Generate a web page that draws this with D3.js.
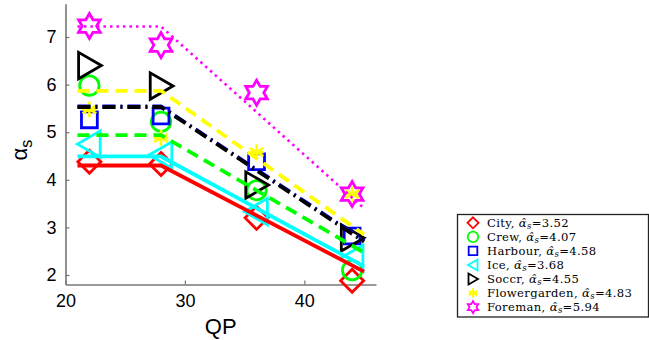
<!DOCTYPE html>
<html>
<head>
<meta charset="utf-8">
<script src="https://cdn.jsdelivr.net/npm/d3@7"></script>
<style>
  html, body { margin: 0; padding: 0; background: #fff; }
  svg { display: block; }
</style>
</head>
<body>
<svg id="chart" width="649" height="340"></svg>
<script>
// Measured points: alpha_s per sequence at each QP
const qpValues = [22, 28, 36, 44];
const seqNames = ["City", "Crew", "Harbour", "Ice", "Soccr", "Flowergarden", "Foreman"];
const alphaHat = ["3.52", "4.07", "4.58", "3.68", "4.55", "4.83", "5.94"];
const cityVals    = [4.38, 4.33, 3.20, 1.88];
const crewVals    = [5.98, 5.22, 3.78, 2.10];
const harbourVals = [5.26, 5.34, 4.38, 2.82];
const iceVals     = [4.75, 4.52, 3.33, 2.35];
const soccrVals   = [6.40, 5.97, 3.89, 2.78];
const flowerVals  = [5.48, 4.88, 4.58, 3.70];
const foremanVals = [7.23, 6.83, 5.83, 3.70];

// Piecewise model curves: flat up to QP 28, then linear decay
const fitQP = [21, 28, 45];
const cityFit    = [4.30, 4.30, 2.07];
const crewFit    = [4.94, 4.94, 2.47];
const harbourFit = [5.54, 5.54, 2.72];
const iceFit     = [4.49, 4.49, 2.18];
const soccrFit   = [5.53, 5.53, 2.70];
const flowerFit  = [5.87, 5.87, 2.85];
const foremanFit = [7.22, 7.22, 3.40];

const xTicks = [20, 30, 40];
const yTicks = [2, 3, 4, 5, 6, 7];

const colors  = ["#ff0000", "#00ff00", "#0000ff", "#00ffff", "#000000", "#ffff00", "#ff00ff"];
const markers = ["diamond", "circle", "square", "triLeft", "triRight", "asterisk", "hexagram"];
const dashes  = [null, "12,7", "13,5,2,5", null, "13,5,2,5", "12,7", "2.5,4"];

const pointSets = [cityVals, crewVals, harbourVals, iceVals, soccrVals, flowerVals, foremanVals];
const fitSets = [cityFit, crewFit, harbourFit, iceFit, soccrFit, flowerFit, foremanFit];

const svg = d3.select("#chart");
const x = d3.scaleLinear().domain([20, 46]).range([65.5, 376]);
const y = d3.scaleLinear().domain([1.8, 7.7]).range([284.5, 3.7]);

// Marker path generator, centered at origin, s = nominal size
function markerPath(type, s) {
  const h = s / 2;
  switch (type) {
    case "diamond":
      return `M0,${-h}L${h},0L0,${h}L${-h},0Z`;
    case "circle":
      return d3.arc()({innerRadius: 0, outerRadius: h * 0.88, startAngle: 0, endAngle: 2 * Math.PI});
    case "square": {
      const q = h * 0.72;
      return `M${-q},${-q}L${q},${-q}L${q},${q}L${-q},${q}Z`;
    }
    case "triRight":
      return `M${h},0L${-h * 0.9},${-h * 1.1}L${-h * 0.9},${h * 1.1}Z`;
    case "triLeft":
      return `M${-h},0L${h * 0.9},${-h * 1.1}L${h * 0.9},${h * 1.1}Z`;
    case "asterisk": {
      const r = h * 0.72;
      let p = "";
      [90, 30, -30].forEach(a => {
        const t = a * Math.PI / 180;
        p += `M${-r * Math.cos(t)},${-r * Math.sin(t)}L${r * Math.cos(t)},${r * Math.sin(t)}`;
      });
      p += `M${-r * 0.9},0L${r * 0.9},0`;
      return p;
    }
    case "hexagram": {
      const R = h, ri = h / Math.sqrt(3);
      const pts = d3.range(12).map(i => {
        const a = -Math.PI / 2 + i * Math.PI / 6;
        const rr = i % 2 === 0 ? R : ri;
        return [rr * Math.cos(a), rr * Math.sin(a)];
      });
      return "M" + pts.map(p => p.join(",")).join("L") + "Z";
    }
  }
}

const markerSize = {diamond: 23, circle: 22, square: 22, triLeft: 24, triRight: 24, asterisk: 22, hexagram: 25};
const legendSize = {diamond: 11, circle: 12, square: 12, triLeft: 10, triRight: 10, asterisk: 13, hexagram: 12};

// Axes (left and bottom only)
const axisColor = "#777";
const yAxis = d3.axisLeft(y).tickValues(yTicks).tickSizeInner(-4).tickSizeOuter(0).tickPadding(9).tickFormat(d3.format("d"));
const xAxis = d3.axisBottom(x).tickValues(xTicks).tickSizeInner(-4).tickSizeOuter(0).tickPadding(10).tickFormat(d3.format("d"));

const gy = svg.append("g").attr("transform", `translate(${x(20)},0)`).call(yAxis);
const gx = svg.append("g").attr("transform", `translate(0,${y(1.8)})`).call(xAxis);
[gx, gy].forEach(g => {
  g.select(".domain").attr("stroke", axisColor).attr("stroke-width", 1.6);
  g.selectAll(".tick line").attr("stroke", axisColor).attr("stroke-width", 1.2);
  g.selectAll(".tick text").attr("fill", "#000").attr("font-family", "Liberation Sans, Arial, sans-serif").attr("font-size", 18);
});

// Markers
const plot = svg.append("g");
pointSets.forEach((vals, i) => {
  const m = markers[i];
  plot.append("g").selectAll("path")
    .data(vals)
    .join("path")
    .attr("transform", (d, j) => `translate(${x(qpValues[j])},${y(d)})`)
    .attr("d", markerPath(m, markerSize[m]))
    .attr("fill", "none")
    .attr("stroke", colors[i])
    .attr("stroke-width", m === "asterisk" ? 2.6 : 2.8)
    .attr("stroke-linejoin", "miter");
});

// Model curves
const line = d3.line().x(d => x(d[0])).y(d => y(d[1]));
fitSets.forEach((vals, i) => {
  plot.append("path")
    .attr("d", line(vals.map((v, j) => [fitQP[j], v])))
    .attr("fill", "none")
    .attr("stroke", colors[i])
    .attr("stroke-width", i === 6 ? 2.6 : 3.8)
    .attr("stroke-dasharray", dashes[i]);
});

// Axis titles
svg.append("text")
  .attr("x", (x(20) + x(46)) / 2)
  .attr("y", 334)
  .attr("text-anchor", "middle")
  .attr("font-family", "Liberation Sans, Arial, sans-serif")
  .attr("font-size", 22)
  .text("QP");

const yl = svg.append("text")
  .attr("transform", `translate(27,${(y(1.8) + y(7.7)) / 2 + 6}) rotate(-90)`)
  .attr("text-anchor", "middle")
  .attr("font-family", "Liberation Sans, Arial, sans-serif")
  .attr("font-size", 22);
yl.append("tspan").text("α");
yl.append("tspan").attr("font-size", 16).attr("dy", 5).text("s");

// Legend
const lg = svg.append("g");
lg.append("rect")
  .attr("x", 457.5).attr("y", 214.5).attr("width", 191).attr("height", 102.5)
  .attr("fill", "#fff").attr("stroke", "#222").attr("stroke-width", 1.3);

const rowH = 14.05, row0 = 222.8;
seqNames.forEach((name, i) => {
  const cy = row0 + i * rowH;
  const m = markers[i];
  lg.append("path")
    .attr("transform", `translate(473,${cy})`)
    .attr("d", markerPath(m, legendSize[m]))
    .attr("fill", "none")
    .attr("stroke", colors[i])
    .attr("stroke-width", 1.8);
  const t = lg.append("text")
    .attr("x", 487)
    .attr("y", cy + 4.2)
    .attr("font-family", "DejaVu Serif, Liberation Serif, serif")
    .attr("font-size", 11.6)
    .attr("letter-spacing", 0.35)
    .attr("fill", "#000");
  t.append("tspan").text(name + ", ");
  t.append("tspan").attr("font-style", "italic").text("α\u0302");
  t.append("tspan").attr("font-style", "italic").attr("font-size", 8.5).attr("dy", 1.5).text("s");
  t.append("tspan").attr("dy", -1.5).text("=" + alphaHat[i]);
});
</script>
</body>
</html>
